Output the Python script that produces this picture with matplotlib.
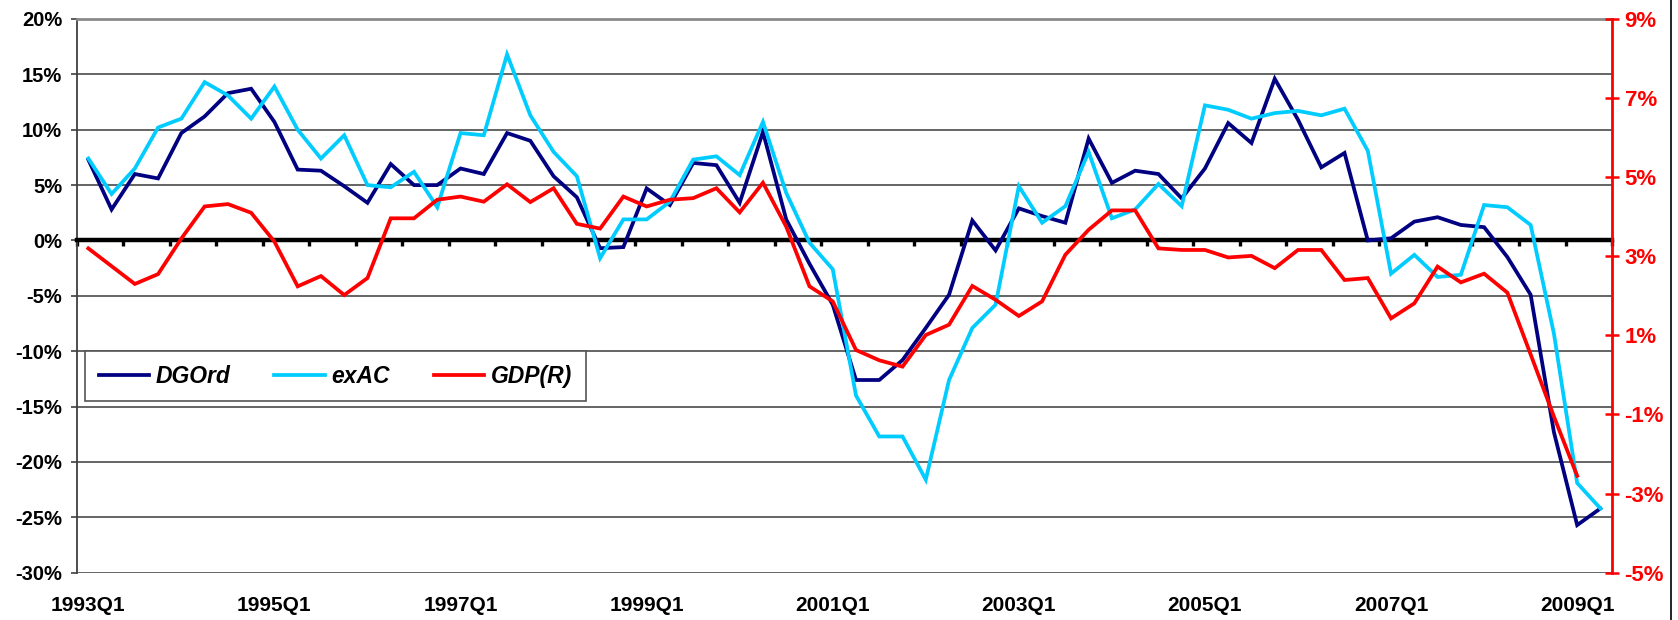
import matplotlib
matplotlib.use('Agg')
import matplotlib.pyplot as plt
from matplotlib.lines import Line2D
from matplotlib.ticker import FuncFormatter, FixedLocator

plt.rcParams['font.family'] = ['Liberation Sans', 'DejaVu Sans']
plt.rcParams['font.weight'] = 'bold'

# quarters 1993Q1 .. 2009Q2
quarters = ['%dQ%d' % (y, q) for y in range(1993, 2010) for q in range(1, 5)][:66]

dgord = [7.3, 2.8, 6.0, 5.6, 9.7, 11.2, 13.3, 13.7, 10.7, 6.4,
         6.3, 4.9, 3.4, 6.9, 5.0, 5.0, 6.5, 6.0, 9.7, 9.0,
         5.8, 3.9, -0.7, -0.6, 4.7, 3.2, 7.0, 6.8, 3.4, 9.8,
         1.9, -2.1, -5.8, -12.6, -12.6, -10.8, -7.9, -4.9, 1.8, -0.9,
         2.9, 2.2, 1.6, 9.2, 5.2, 6.3, 6.0, 3.8, 6.5, 10.6,
         8.8, 14.6, 10.9, 6.6, 7.9, 0.0, 0.2, 1.7, 2.1, 1.4,
         1.2, -1.5, -4.9, -17.3, -25.7, -24.2]

exac = [7.4, 4.2, 6.5, 10.2, 11.0, 14.3, 13.1, 11.0, 13.9, 10.0,
        7.4, 9.5, 5.0, 4.8, 6.2, 3.0, 9.7, 9.5, 16.8, 11.3,
        8.0, 5.8, -1.6, 1.9, 1.9, 3.5, 7.3, 7.6, 5.9, 10.7,
        4.3, -0.2, -2.6, -14.0, -17.7, -17.7, -21.6, -12.6, -7.9, -5.8,
        4.9, 1.6, 3.1, 8.0, 2.0, 2.8, 5.1, 3.1, 12.2, 11.8,
        11.0, 11.5, 11.7, 11.3, 11.9, 8.1, -3.0, -1.3, -3.3, -3.1,
        3.2, 3.0, 1.4, -8.4, -21.9, -24.2]

gdp = [3.2, 2.75, 2.3, 2.55, 3.45, 4.26, 4.32, 4.1, 3.37, 2.24,
       2.5, 2.02, 2.45, 3.96, 3.96, 4.43, 4.51, 4.38, 4.82, 4.37,
       4.72, 3.82, 3.7, 4.51, 4.26, 4.43, 4.47, 4.72, 4.11, 4.86,
       3.75, 2.24, 1.86, 0.63, 0.37, 0.21, 1.01, 1.27, 2.25, 1.9,
       1.49, 1.86, 3.04, 3.67, 4.16, 4.16, 3.2, 3.16, 3.16, 2.97,
       3.01, 2.7, 3.16, 3.16, 2.4, 2.45, 1.43, 1.81, 2.74, 2.34,
       2.56, 2.08, 0.52, -1.05, -2.55]

xs = list(range(len(quarters)))

fig = plt.figure(figsize=(16.78, 6.2), dpi=100)
ax = fig.add_axes([0.0457, 0.0763, 0.9150, 0.8931])
ax2 = ax.twinx()

l1, = ax.plot(xs, dgord, color='#000080', lw=2.7, zorder=3, solid_joinstyle='miter')
l2, = ax.plot(xs, exac, color='#00CCFF', lw=2.7, zorder=3, solid_joinstyle='miter')
l3, = ax2.plot(xs[:len(gdp)], gdp, color='#FF0000', lw=2.7, zorder=3, solid_joinstyle='miter')

ax.set_xlim(-0.5, len(quarters) - 0.5)
ax.set_ylim(-30, 20)
ax.set_yticks(range(-30, 21, 5))
ax.yaxis.set_major_formatter(FuncFormatter(lambda v, p: '%d%%' % v))
ax.yaxis.grid(True, color='#4a4a4a', lw=1.2)
ax.set_axisbelow(True)
ax.tick_params(axis='y', direction='out', length=4.5, width=1.2, color='#404040',
               labelsize=14.5, pad=6)

# x axis crossing at zero, tick marks between categories
ax.spines['bottom'].set_position(('data', 0))
ax.spines['bottom'].set_color('black')
ax.spines['bottom'].set_linewidth(3.2)
ax.spines['bottom'].set_zorder(2.5)
ax.xaxis.set_major_locator(FixedLocator([i - 0.5 for i in range(0, len(quarters) + 1, 2)]))
ax.tick_params(axis='x', direction='out', length=4.5, width=2.4, color='black',
               labelbottom=False)
ax.spines['left'].set_color('#404040')
ax.spines['left'].set_linewidth(1.3)
ax.spines['top'].set_color('#8a8a8a')
ax.spines['top'].set_linewidth(2)
ax.spines['right'].set_visible(False)

sec = ax.secondary_xaxis('bottom')
sec.set_xticks(xs[::8])
sec.set_xticklabels(quarters[::8])
sec.tick_params(axis='x', length=0, labelsize=15, pad=17)
sec.spines['bottom'].set_visible(False)

ax2.set_ylim(-5, 9)
ax2.set_yticks(range(-5, 10, 2))
ax2.yaxis.set_major_formatter(FuncFormatter(lambda v, p: '%d%%' % v))
ax2.tick_params(axis='y', direction='inout', length=10, width=1.8, color='#FF0000',
                labelcolor='#FF0000', labelsize=16, pad=4)
ax2.spines['right'].set_color('#FF0000')
ax2.spines['right'].set_linewidth(2)
for s in ['left', 'top', 'bottom']:
    ax2.spines[s].set_visible(False)

leg = ax.legend([l1, l2, l3], ['DGOrd', 'exAC', 'GDP(R)'], ncol=3,
                loc='upper left', bbox_to_anchor=(0.0054, 0.4004),
                prop={'weight': 'bold', 'style': 'italic', 'size': 16.5},
                handlelength=2.2, handletextpad=0.3, columnspacing=1.9,
                borderpad=0.6, borderaxespad=0, fancybox=False, framealpha=1,
                edgecolor='#555555')
leg.get_frame().set_linewidth(1.2)
leg.set_zorder(5)

# chart area border at the right edge
fig.add_artist(Line2D([0.9958, 0.9958], [0, 1], color='black', lw=1.2,
                      transform=fig.transFigure))

fig.savefig('out.png', dpi=100)
